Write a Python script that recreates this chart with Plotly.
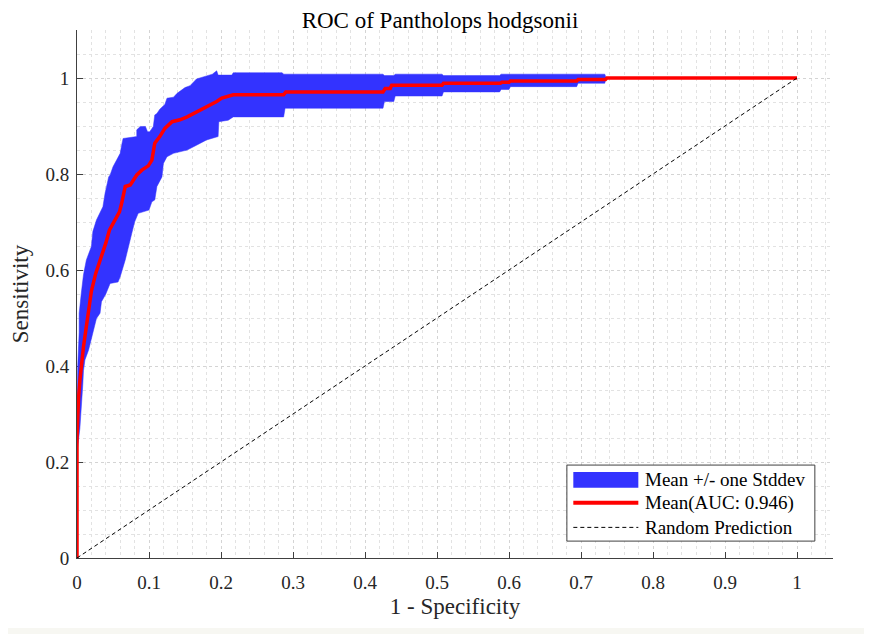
import plotly.graph_objects as go

# mean ROC curve (1 - specificity, sensitivity)
fpr_mean = [0, 0, 0.002, 0.004, 0.009, 0.016, 0.020, 0.026, 0.034, 0.040, 0.045, 0.053,
            0.059, 0.062, 0.067, 0.074, 0.083, 0.090, 0.099, 0.104, 0.108, 0.115, 0.122,
            0.132, 0.143, 0.153, 0.162, 0.171, 0.185, 0.194, 0.201, 0.217, 0.287, 0.290,
            0.425, 0.428, 0.435, 0.437, 0.507, 0.509, 0.588, 0.590, 0.600, 0.602, 0.694,
            0.696, 0.734, 0.736, 1.0]
tpr_mean = [0, 0.25, 0.33, 0.37, 0.44, 0.51, 0.556, 0.593, 0.628, 0.656, 0.683, 0.704,
            0.721, 0.739, 0.774, 0.777, 0.798, 0.808, 0.817, 0.829, 0.864, 0.878, 0.895,
            0.909, 0.913, 0.919, 0.926, 0.933, 0.942, 0.951, 0.958, 0.965, 0.965, 0.971,
            0.971, 0.978, 0.978, 0.985, 0.985, 0.989, 0.989, 0.991, 0.991, 0.994, 0.994,
            0.997, 0.997, 1.0, 1.0]

# mean + one stddev
fpr_upper = [0, 0.001, 0.003, 0.003, 0.006, 0.009, 0.013, 0.020, 0.022, 0.027, 0.036,
             0.039, 0.044, 0.046, 0.050, 0.060, 0.062, 0.064, 0.083, 0.083, 0.088, 0.095,
             0.098, 0.101, 0.106, 0.108, 0.111, 0.115, 0.122, 0.125, 0.134, 0.139, 0.150,
             0.157, 0.166, 0.180, 0.188, 0.194, 0.196, 0.215, 0.217, 0.285, 0.287, 0.425,
             0.427, 0.440, 0.442, 0.507, 0.509, 0.587, 0.589, 0.733, 0.735, 1.0]
tpr_upper = [0.30, 0.40, 0.47, 0.51, 0.552, 0.59, 0.621, 0.649, 0.68, 0.704, 0.732,
             0.76, 0.794, 0.798, 0.815, 0.843, 0.860, 0.874, 0.878, 0.892, 0.899, 0.899,
             0.888, 0.888, 0.899, 0.923, 0.926, 0.935, 0.945, 0.958, 0.960, 0.968, 0.980,
             0.984, 0.998, 1.004, 1.008, 1.015, 1.006, 1.006, 1.011, 1.011, 1.008, 1.008,
             1.005, 1.005, 1.008, 1.008, 1.005, 1.005, 1.008, 1.008, 1.0, 1.0]

# mean - one stddev
fpr_lower = [0, 0.004, 0.006, 0.008, 0.009, 0.011, 0.016, 0.020, 0.024, 0.027, 0.032,
             0.034, 0.040, 0.046, 0.057, 0.060, 0.067, 0.072, 0.076, 0.080, 0.085, 0.100,
             0.104, 0.108, 0.111, 0.118, 0.120, 0.125, 0.134, 0.153, 0.166, 0.180, 0.196,
             0.197, 0.210, 0.217, 0.287, 0.289, 0.425, 0.427, 0.440, 0.442, 0.507, 0.509,
             0.587, 0.589, 0.600, 0.602, 0.694, 0.696, 0.733, 0.735, 1.0]
tpr_lower = [0.22, 0.27, 0.30, 0.36, 0.39, 0.4125, 0.433, 0.454, 0.48, 0.499, 0.51,
             0.534, 0.55, 0.572, 0.575, 0.586, 0.621, 0.650, 0.676, 0.700, 0.718, 0.725,
             0.742, 0.746, 0.774, 0.794, 0.822, 0.836, 0.843, 0.850, 0.860, 0.871, 0.878,
             0.909, 0.912, 0.919, 0.919, 0.937, 0.937, 0.951, 0.951, 0.9625, 0.9625, 0.971,
             0.971, 0.976, 0.976, 0.982, 0.982, 0.989, 0.989, 1.0, 1.0]

diag = [0, 1]

x_ticks = [0, 0.1, 0.2, 0.3, 0.4, 0.5, 0.6, 0.7, 0.8, 0.9, 1]
y_ticks = [0, 0.2, 0.4, 0.6, 0.8, 1]

legend_labels = ["Mean +/- one Stddev", "Mean(AUC: 0.946)", "Random Prediction"]

serif = "Liberation Serif, Times New Roman, serif"
band_color = "rgb(51,51,255)"

fig = go.Figure()

fig.add_trace(go.Scatter(
    x=fpr_upper + fpr_lower[::-1],
    y=tpr_upper + tpr_lower[::-1],
    fill="toself",
    fillcolor=band_color,
    line=dict(width=0.5, color=band_color),
    mode="lines",
    name=legend_labels[0],
    showlegend=False,
))

fig.add_trace(go.Scatter(
    x=fpr_mean, y=tpr_mean,
    mode="lines",
    line=dict(color="#ff0000", width=3.5),
    name=legend_labels[1],
    showlegend=False,
))

fig.add_trace(go.Scatter(
    x=diag, y=diag,
    mode="lines",
    line=dict(color="black", width=1, dash="4px,3px"),
    name=legend_labels[2],
    showlegend=False,
))

axis_common = dict(
    showline=True,
    linecolor="#404040",
    linewidth=1,
    ticks="inside",
    ticklen=6,
    tickcolor="#404040",
    mirror=False,
    zeroline=False,
    showgrid=True,
    gridcolor="#d4d4d4",
    griddash="dot",
    gridwidth=1,
    layer="below traces",
    tickfont=dict(size=19, color="#262626", family=serif),
)

fig.update_xaxes(
    **axis_common,
    range=[0, 1.05],
    tickvals=x_ticks,
    ticklabelstandoff=7,
    minor=dict(dtick=0.02, showgrid=True, gridcolor="#e2e2e2", griddash="dot"),
    title=dict(text="1 - Specificity", font=dict(size=23, color="#262626", family=serif),
               standoff=6),
)
fig.update_yaxes(
    **axis_common,
    range=[0, 1.1],
    tickvals=y_ticks,
    ticklabelstandoff=3,
    minor=dict(dtick=0.05, showgrid=True, gridcolor="#e2e2e2", griddash="dot"),
    title=dict(text="Sensitivity", font=dict(size=23, color="#262626", family=serif),
               standoff=10),
)

# MATLAB-style legend box (wide patch, tight rows)
fig.add_shape(type="rect", xref="paper", yref="paper", x0=0.648, x1=0.976,
              y0=0.032, y1=0.176, fillcolor="white",
              line=dict(color="#404040", width=1), layer="above")
fig.add_shape(type="rect", xref="paper", yref="paper", x0=0.6565, x1=0.7425,
              y0=0.133, y1=0.163, fillcolor=band_color,
              line=dict(width=0), layer="above")
fig.add_shape(type="line", xref="paper", yref="paper", x0=0.6565, x1=0.7425,
              y0=0.1045, y1=0.1045, line=dict(color="#ff0000", width=4), layer="above")
fig.add_shape(type="line", xref="paper", yref="paper", x0=0.6565, x1=0.7425,
              y0=0.058, y1=0.058, line=dict(color="black", width=1, dash="4px,3px"),
              layer="above")
for label, ly in zip(legend_labels, [0.148, 0.1035, 0.058]):
    fig.add_annotation(text=label, xref="paper", yref="paper", x=0.749, y=ly,
                       xanchor="left", yanchor="middle", showarrow=False,
                       font=dict(size=19, color="black", family=serif))

# light strip along the bottom edge of the picture
fig.add_shape(type="rect", xref="paper", yref="paper", x0=-0.2, x1=1.2,
              y0=-0.1326, y1=-0.16, fillcolor="#f7f7f2", line=dict(width=0), layer="below")

fig.update_layout(
    width=864,
    height=626,
    margin=dict(l=69, r=39, t=22, b=76),
    paper_bgcolor="white",
    plot_bgcolor="white",
    font=dict(family=serif, color="black"),
    title=dict(text="ROC of Pantholops hodgsonii", x=0.5, xanchor="center",
               y=0.993, yanchor="top", pad=dict(t=0, b=0),
               font=dict(size=23, color="black", family=serif)),
    showlegend=False,
)

fig.write_html("out.html")
